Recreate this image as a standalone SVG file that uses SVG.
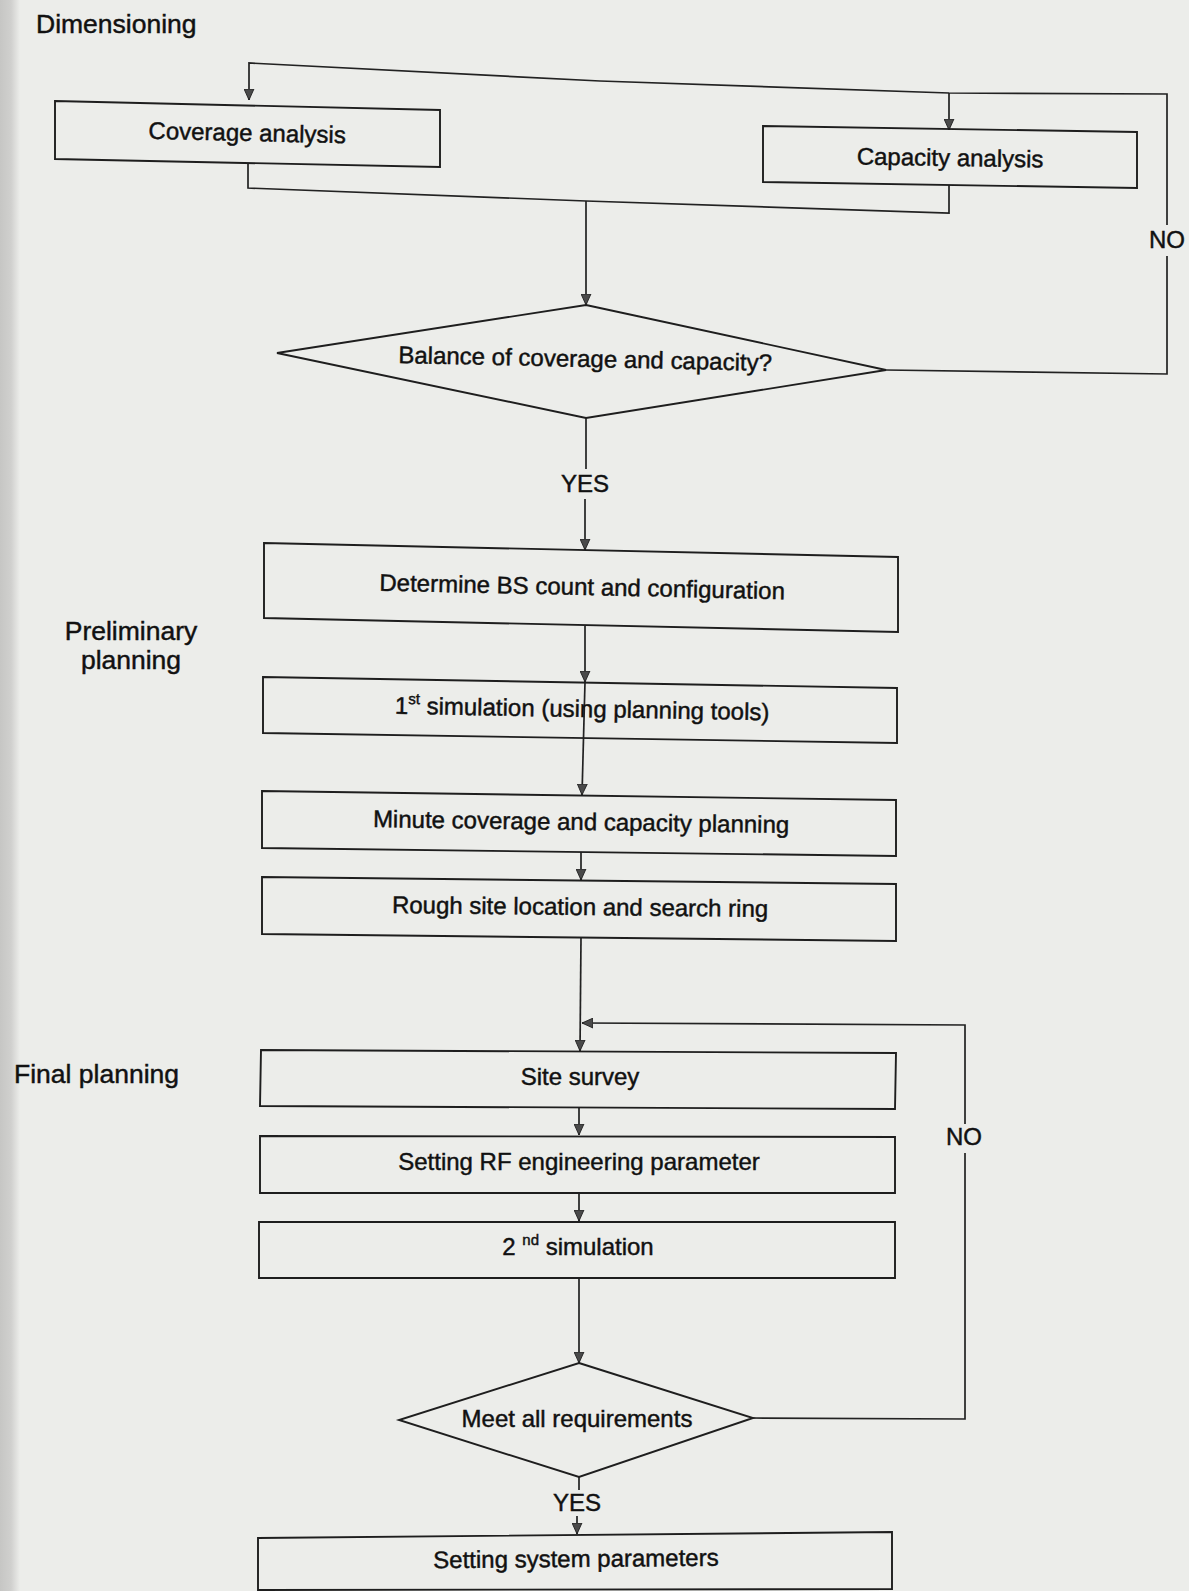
<svg xmlns="http://www.w3.org/2000/svg" width="1189" height="1591" viewBox="0 0 1189 1591">
<defs>
<linearGradient id="edge" x1="0" y1="0" x2="1" y2="0">
<stop offset="0" stop-color="#c6c6c4"/>
<stop offset="0.55" stop-color="#d0d0ce"/>
<stop offset="1" stop-color="#ecedea"/>
</linearGradient>
<marker id="ah" viewBox="0 0 10 10" refX="10" refY="5" markerWidth="11" markerHeight="11" markerUnits="userSpaceOnUse" orient="auto">
<path d="M0,0.5 L10,5 L0,9.5 z" fill="#4a4a4a" stroke="#1e1e1e" stroke-width="0.8"/>
</marker>
</defs>
<style>
.box{fill:none;stroke:#1e1e1e;stroke-width:1.9;stroke-linejoin:miter}
.ln{fill:none;stroke:#222;stroke-width:1.7}
.t{font-family:"Liberation Sans",Arial,sans-serif;font-size:24px;fill:#111;stroke:#111;stroke-width:0.45;text-anchor:middle}
.lbl{font-family:"Liberation Sans",Arial,sans-serif;font-size:26.5px;fill:#111;stroke:#111;stroke-width:0.45}
.sup{font-size:15px}
</style>
<rect x="0" y="0" width="1189" height="1591" fill="#ecedea"/>
<rect x="0" y="0" width="20" height="1591" fill="url(#edge)"/>

<g id="connectors">
<polyline class="ln" points="886,370 1167,374 1167,256"/>
<polyline class="ln" points="1167,225 1167,94 949,93 600,81 249,63 249,100" marker-end="url(#ah)"/>
<polyline class="ln" points="949,93 949,130" marker-end="url(#ah)"/>
<polyline class="ln" points="248,163 248,188 586,201 949,213 949,185"/>
<polyline class="ln" points="586,201 586,305" marker-end="url(#ah)"/>
<polyline class="ln" points="586,418 586,469"/>
<polyline class="ln" points="585,499 585,550" marker-end="url(#ah)"/>
<polyline class="ln" points="585,626 585,682" marker-end="url(#ah)"/>
<polyline class="ln" points="585,682 582,795" marker-end="url(#ah)"/>
<polyline class="ln" points="581,852 581,880" marker-end="url(#ah)"/>
<polyline class="ln" points="581,938 580,1051" marker-end="url(#ah)"/>
<polyline class="ln" points="753,1418 965,1419 965,1153"/>
<polyline class="ln" points="965,1124 965,1025 582,1023" marker-end="url(#ah)"/>
<polyline class="ln" points="579,1108 579,1135" marker-end="url(#ah)"/>
<polyline class="ln" points="579,1193 579,1221" marker-end="url(#ah)"/>
<polyline class="ln" points="579,1278 579,1363" marker-end="url(#ah)"/>
<polyline class="ln" points="579,1477 579,1490"/>
<polyline class="ln" points="577,1516 577,1534" marker-end="url(#ah)"/>
<text class="t" x="1167" y="248">NO</text>
<text class="t" x="585" y="492">YES</text>
<text class="t" x="964" y="1145">NO</text>
<text class="t" x="577" y="1511">YES</text>
</g>

<g id="label-dimensioning"><text class="lbl" x="36" y="33">Dimensioning</text></g>
<g id="label-preliminary"><text class="lbl" x="131" y="640" text-anchor="middle">Preliminary</text><text class="lbl" x="131" y="669" text-anchor="middle">planning</text></g>
<g id="label-final"><text class="lbl" x="14" y="1083">Final planning</text></g>

<g id="coverage">
<polygon class="box" points="55,101 440,110 440,167 55,159"/>
<text class="t" x="247" y="141" transform="rotate(1.3 247 141)">Coverage analysis</text>
</g>
<g id="capacity">
<polygon class="box" points="763,126 1137,132 1137,188 763,182"/>
<text class="t" x="950" y="166" transform="rotate(0.9 950 166)">Capacity analysis</text>
</g>
<g id="balance">
<polygon class="box" points="586,305 886,370 586,418 277,353"/>
<text class="t" x="585" y="367" transform="rotate(1.2 585 367)">Balance of coverage and capacity?</text>
</g>
<g id="determine">
<polygon class="box" points="264,543 898,557 898,632 264,618"/>
<text class="t" x="582" y="595" transform="rotate(1.2 582 595)">Determine BS count and configuration</text>
</g>
<g id="sim1">
<polygon class="box" points="263,677 897,688 897,743 263,733"/>
<text class="t" x="582" y="717" transform="rotate(1 582 717)">1<tspan class="sup" dy="-10">st</tspan><tspan dy="10"> simulation (using planning tools)</tspan></text>
</g>
<g id="minute">
<polygon class="box" points="262,791 896,800 896,856 262,848"/>
<text class="t" x="581" y="830" transform="rotate(0.8 581 830)">Minute coverage and capacity planning</text>
</g>
<g id="rough">
<polygon class="box" points="262,877 896,884 896,941 262,934"/>
<text class="t" x="580" y="915" transform="rotate(0.6 580 915)">Rough site location and search ring</text>
</g>
<g id="site-survey">
<polygon class="box" points="261,1050 896,1053 895,1109 260,1106"/>
<text class="t" x="580" y="1085">Site survey</text>
</g>
<g id="rf-params">
<polygon class="box" points="260,1136 895,1137 895,1193 260,1193"/>
<text class="t" x="579" y="1170">Setting RF engineering parameter</text>
</g>
<g id="sim2">
<polygon class="box" points="259,1222 895,1222 895,1278 259,1278"/>
<text class="t" x="578" y="1255">2 <tspan class="sup" dy="-10">nd</tspan><tspan dy="10"> simulation</tspan></text>
</g>
<g id="meet">
<polygon class="box" points="579,1363 753,1418 579,1477 399,1420"/>
<text class="t" x="577" y="1427">Meet all requirements</text>
</g>
<g id="system-params">
<polygon class="box" points="258,1538 892,1532 892,1589 258,1590"/>
<text class="t" x="576" y="1567" transform="rotate(-0.5 576 1567)">Setting system parameters</text>
</g>
</svg>
